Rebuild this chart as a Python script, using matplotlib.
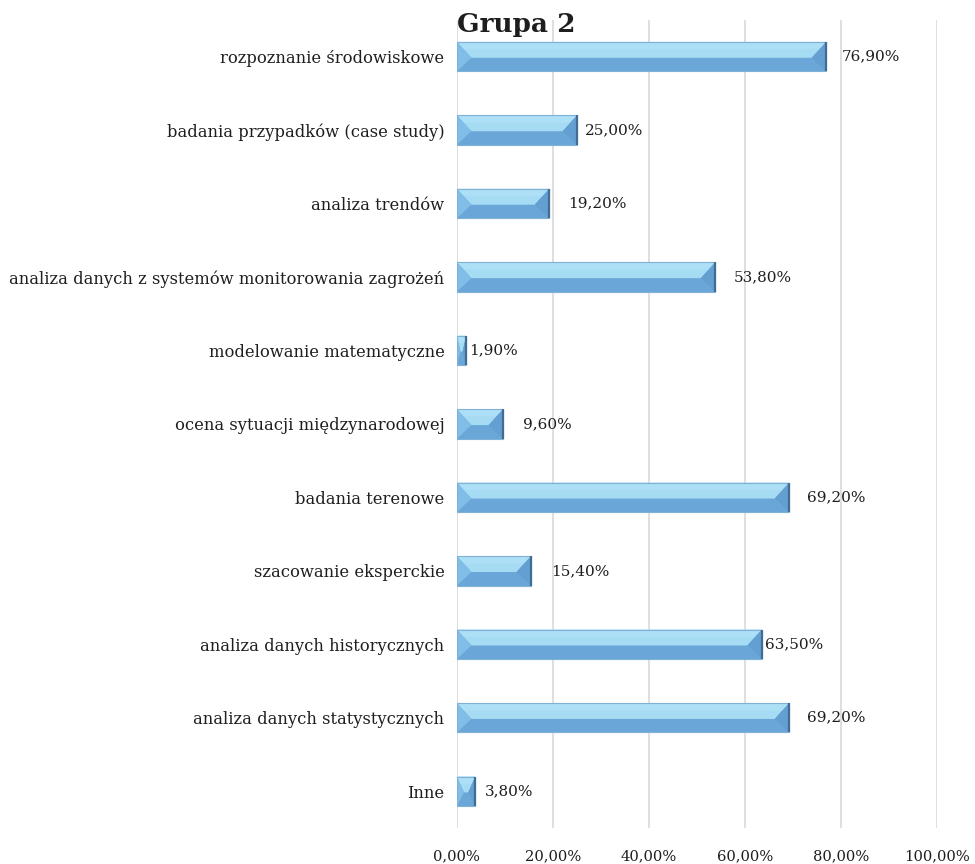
import matplotlib.pyplot as plt
from matplotlib.patches import Polygon
import numpy as np

plt.rcParams['font.family'] = ['DejaVu Serif']

categories = ['rozpoznanie środowiskowe',
              'badania przypadków (case study)',
              'analiza trendów',
              'analiza danych z systemów monitorowania zagrożeń',
              'modelowanie matematyczne',
              'ocena sytuacji międzynarodowej',
              'badania terenowe',
              'szacowanie eksperckie',
              'analiza danych historycznych',
              'analiza danych statystycznych',
              'Inne']
values = [76.9, 25.0, 19.2, 53.8, 1.9, 9.6, 69.2, 15.4, 63.5, 69.2, 3.8]
labels = ['76,90%', '25,00%', '19,20%', '53,80%', '1,90%', '9,60%',
          '69,20%', '15,40%', '63,50%', '69,20%', '3,80%']
xticks = [0, 20, 40, 60, 80, 100]
xticklabels = ['0,00%', '20,00%', '40,00%', '60,00%', '80,00%', '100,00%']

# gap (pixels) between each bar end and its value label
label_gap = [15, 7, 18, 18, 2, 19, 17, 19, 2, 17, 9]

fig = plt.figure(figsize=(9.75, 8.64), dpi=100)
ax = fig.add_axes([0.4687, 0.0417, 0.4923, 0.9353])

y = np.arange(len(categories))[::-1]
h = 0.4
face = '#6aa7d8'
light = '#a6dbf4'
lighter = '#ade0f6'
edge = '#7fb0d6'

bars = ax.barh(y, values, height=h, color=face, edgecolor='none', zorder=2)

# bevelled look: light upper band, shaded end facets, dark right rim
for b in bars:
    x0 = b.get_x()
    x1 = x0 + b.get_width()
    y0 = b.get_y()
    y1 = y0 + b.get_height()
    ym = y1 - 0.54 * (y1 - y0)
    bw = min(3.0, (x1 - x0) / 2.6)
    ax.add_patch(Polygon([(x0, y1), (x1, y1), (x1 - bw, ym), (x0 + bw, ym)],
                         closed=True, facecolor=light, edgecolor='none', zorder=3))
    ax.add_patch(Polygon([(x0, y1), (x1, y1), (x1 - bw * 0.5, y1 - 0.25 * (y1 - y0)),
                          (x0 + bw * 0.5, y1 - 0.25 * (y1 - y0))],
                         closed=True, facecolor=lighter, edgecolor='none', zorder=3))
    ax.add_patch(Polygon([(x0, y0), (x0, y1), (x0 + bw, ym)],
                         closed=True, facecolor='#80bde7', edgecolor='none', zorder=3))
    ax.add_patch(Polygon([(x1, y0), (x1, y1), (x1 - bw, ym)],
                         closed=True, facecolor='#63a0d1', edgecolor='none', zorder=3))
    ax.add_patch(Polygon([(x0, y0), (x1, y0), (x1, y1), (x0, y1)], closed=True,
                         facecolor='none', edgecolor=edge, linewidth=0.8, zorder=4))
    ax.plot([x1, x1], [y0, y1], color='#416d94', linewidth=1.6, zorder=5,
            solid_capstyle='butt')

for yi, v, lab, g in zip(y, values, labels, label_gap):
    ax.annotate(lab, (v, yi), xytext=(g + 1, 0), textcoords='offset pixels',
                va='center', ha='left', fontsize=11, color='#1e1e1e')

ax.set_xlim(0, 100)
ax.set_ylim(-0.5, len(categories) - 0.5)
ax.set_yticks(y)
ax.set_yticklabels(categories, fontsize=11.8, color='#1e1e1e')
ax.set_xticks(xticks)
ax.set_xticklabels(xticklabels, fontsize=10.6, color='#1e1e1e')
ax.tick_params(length=0)
ax.tick_params(axis='y', pad=9)
ax.tick_params(axis='x', pad=15)
ax.grid(axis='x', color='#d9d9d9', linewidth=1.2, zorder=0)
ax.set_axisbelow(True)
for s in ax.spines.values():
    s.set_visible(False)

fig.text(0.529, 1 - 32 / 864, 'Grupa 2', ha='center', va='baseline',
         fontsize=19, fontweight='bold', color='#1e1e1e')

fig.savefig('out.png', dpi=100)
